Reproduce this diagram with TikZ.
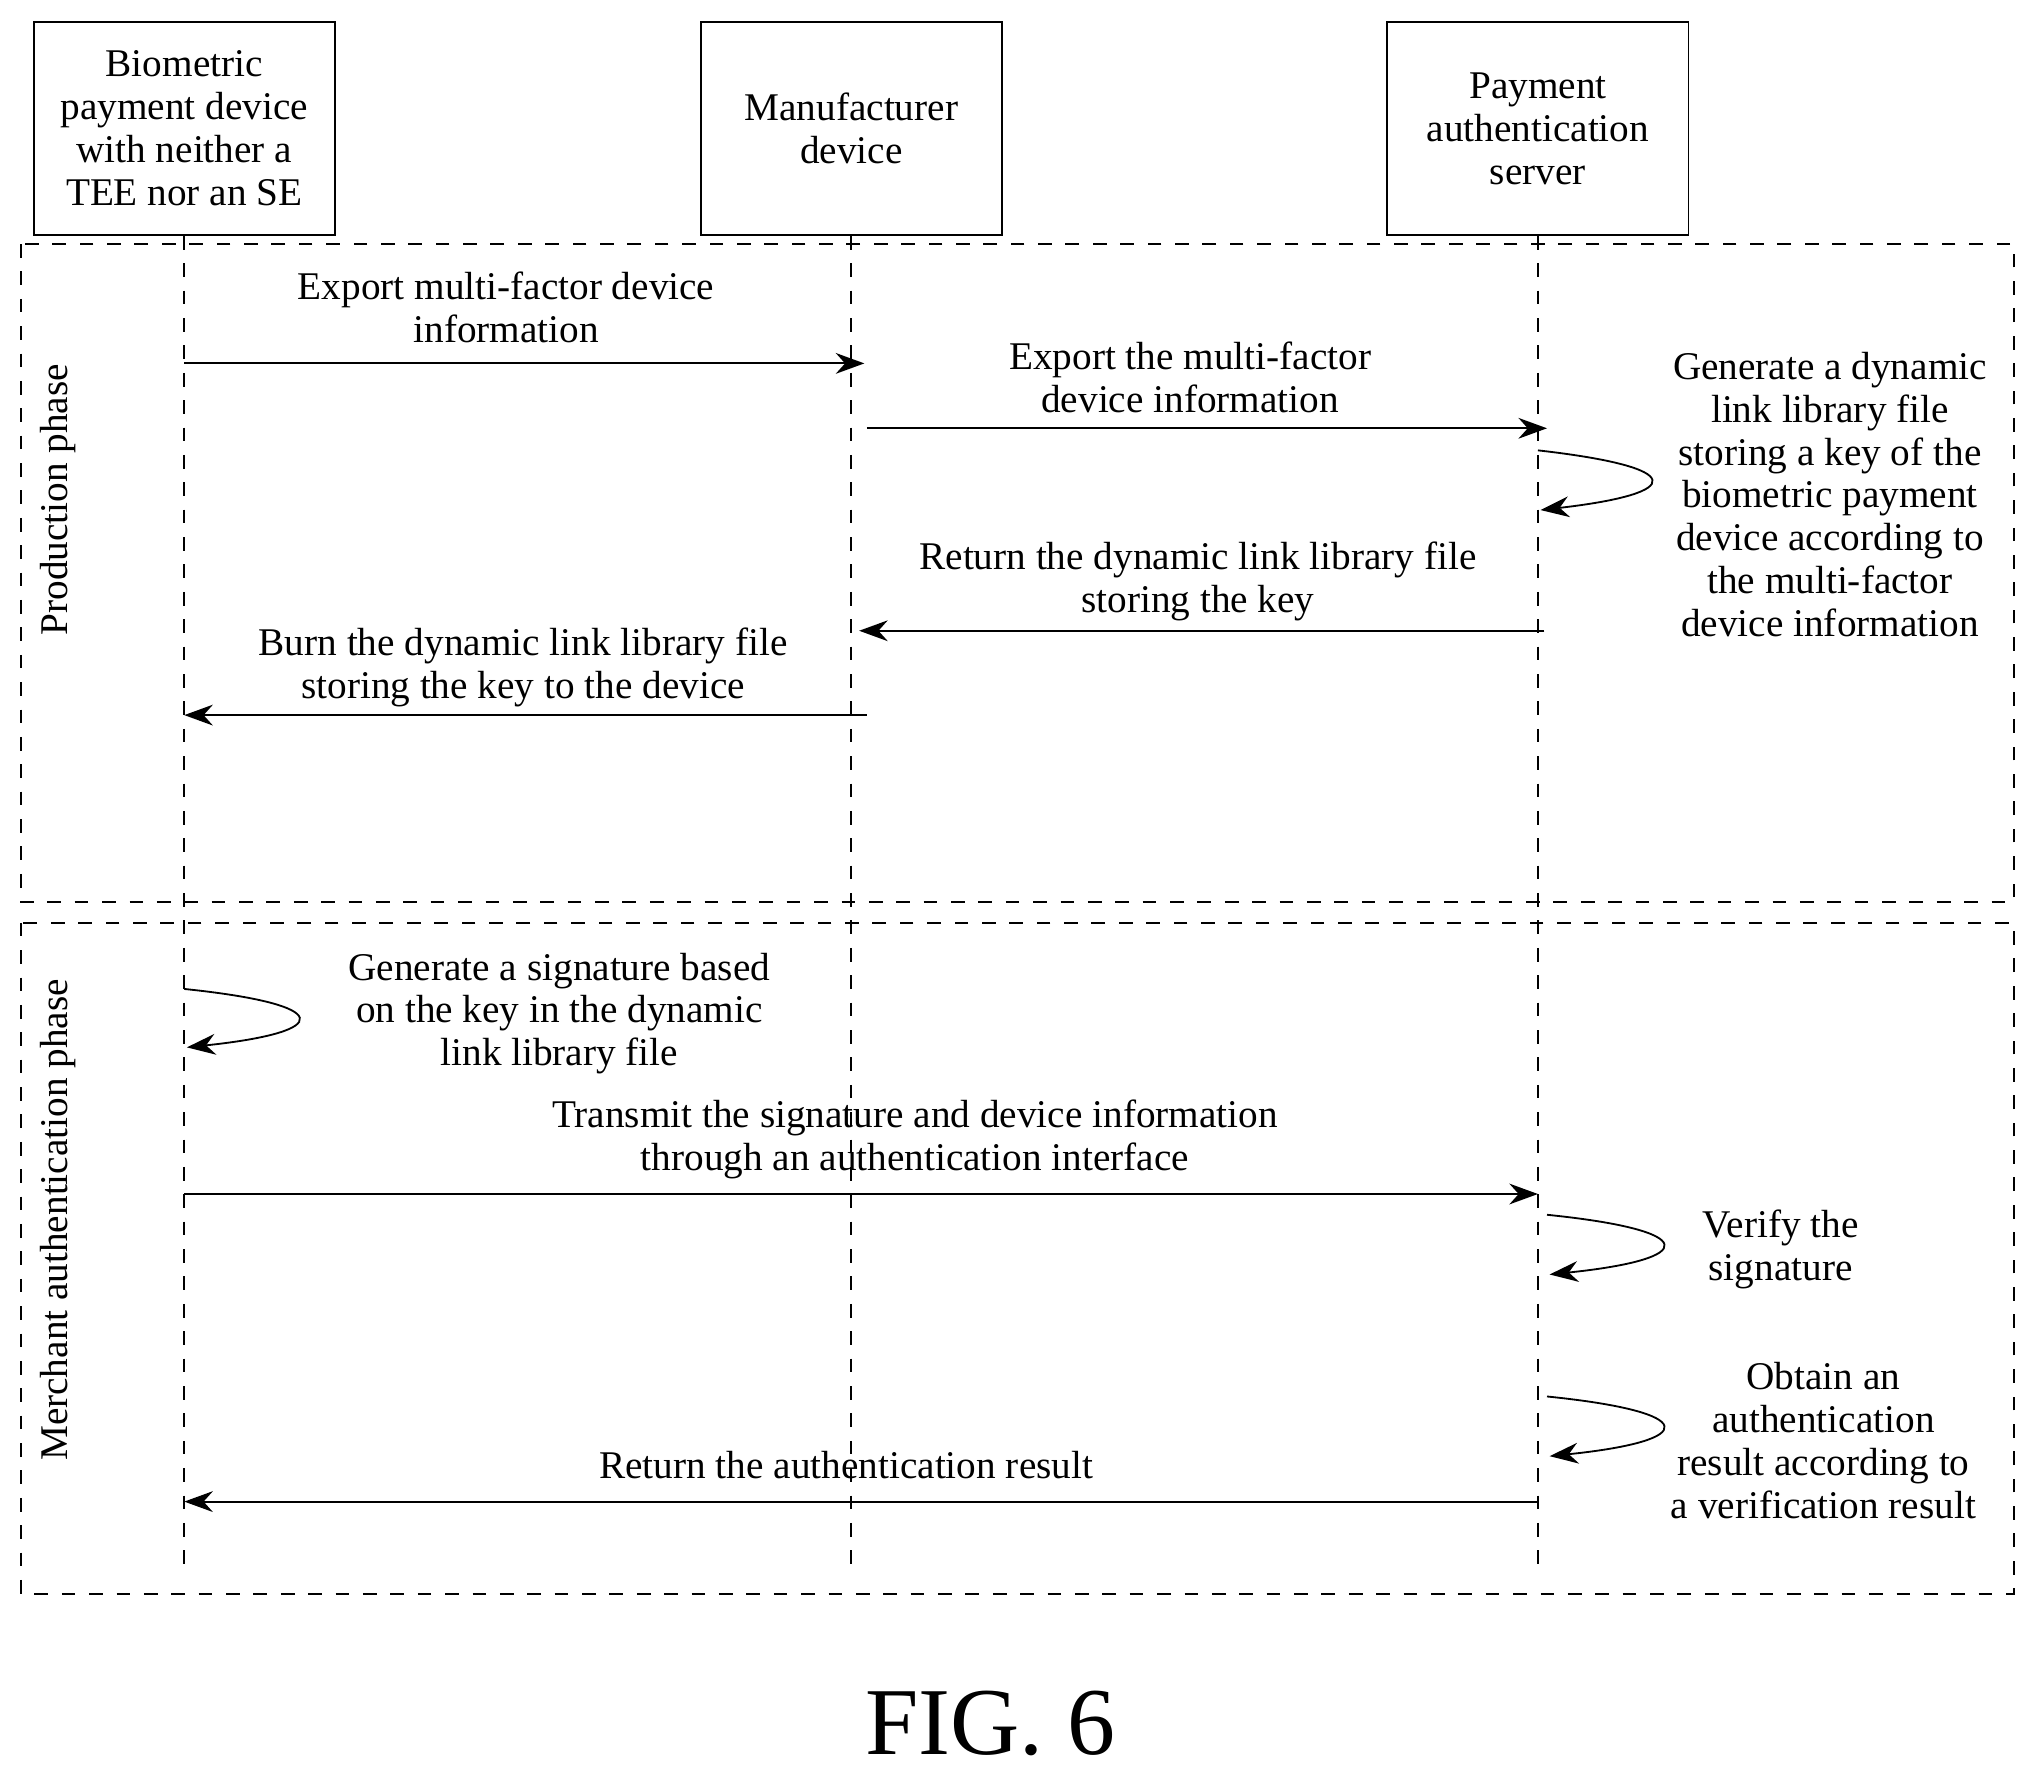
\documentclass[tikz,border=0pt]{standalone}
\usepackage{fontspec}
\setmainfont{Liberation Serif}
\usetikzlibrary{positioning,arrows.meta}

\begin{document}
\begin{tikzpicture}[
  x=0.01cm, y=-0.01cm,
  font=\fontsize{8.6}{9.4}\selectfont,
  actor/.style={draw, minimum width=2.32cm, minimum height=1.64cm, align=center, inner sep=1pt},
  life/.style={dashed},
  phase/.style={draw, dashed},
  msg/.style={-{Stealth[length=2.2mm,width=1.6mm]}},
  lbl/.style={align=center, inner sep=0pt}
]
\useasboundingbox (0,0) rectangle (1568,1363);

% participants
\node[actor] (dev) at (142,99) {Biometric\\payment device\\with neither a\\TEE nor an SE};
\node[actor] (mfr) at (656,99) {Manufacturer\\device};
\node[actor] (srv) at (1185,99) {Payment\\authentication\\server};

% phases
\draw[phase] (16,188) rectangle (1552,695);
\draw[phase] (16,711) rectangle (1552,1228);
\node[rotate=90] (p1) at (45,385) {Production phase};
\node[rotate=90] (p2) at (45,940) {Merchant authentication phase};

% lifelines
\coordinate (devend) at (142,1207);
\coordinate (mfrend) at (656,1207);
\coordinate (srvend) at (1185,1207);
\draw[life] (dev) -- (devend);
\draw[life] (mfr) -- (mfrend);
\draw[life] (srv) -- (srvend);

% production phase
\coordinate (m1a) at (142,280); \coordinate (m1b) at (666,280);
\draw[msg] (m1a) -- (m1b);
\node[lbl] (t1) at (390,237) {Export multi-factor device\\information};

\coordinate (m2a) at (668,330); \coordinate (m2b) at (1192,330);
\draw[msg] (m2a) -- (m2b);
\node[lbl] (t2) at (917,291) {Export the multi-factor\\device information};

\coordinate (l1a) at (1185,347); \coordinate (l1b) at (1187,393);
\draw[msg] (l1a) .. controls (1300,360) and (1300,380) .. (l1b);
\node[lbl] (t3) at (1410,381) {Generate a dynamic\\link library file\\storing a key of the\\biometric payment\\device according to\\the multi-factor\\device information};

\coordinate (m3a) at (1190,486); \coordinate (m3b) at (662,486);
\draw[msg] (m3a) -- (m3b);
\node[lbl] (t4) at (923,448) {Return the dynamic link library file\\storing the key};

\coordinate (m4a) at (668,551); \coordinate (m4b) at (142,551);
\draw[msg] (m4a) -- (m4b);
\node[lbl] (t5) at (403,514) {Burn the dynamic link library file\\storing the key to the device};

% merchant authentication phase
\coordinate (l2a) at (142,762); \coordinate (l2b) at (144,807);
\draw[msg] (l2a) .. controls (258,774) and (258,795) .. (l2b);
\node[lbl] (t6) at (431,781) {Generate a signature based\\on the key in the dynamic\\link library file};

\coordinate (m5a) at (142,920); \coordinate (m5b) at (1185,920);
\draw[msg] (m5a) -- (m5b);
\node[lbl] (t7) at (705,878) {Transmit the signature and device information\\through an authentication interface};

\coordinate (l3a) at (1192,936); \coordinate (l3b) at (1194,982);
\draw[msg] (l3a) .. controls (1310,948) and (1310,970) .. (l3b);
\node[lbl] (t8) at (1372,963) {Verify the\\signature};

\coordinate (l4a) at (1192,1076); \coordinate (l4b) at (1194,1122);
\draw[msg] (l4a) .. controls (1310,1088) and (1310,1110) .. (l4b);
\node[lbl] (t9) at (1405,1110) {Obtain an\\authentication\\result according to\\a verification result};

\coordinate (m6a) at (1185,1157); \coordinate (m6b) at (142,1157);
\draw[msg] (m6a) -- (m6b);
\node[lbl] (t10) at (652,1129) {Return the authentication result};

\node (fig) at (763,1328) {\fontsize{21}{24}\selectfont FIG. 6};
\end{tikzpicture}
\end{document}
